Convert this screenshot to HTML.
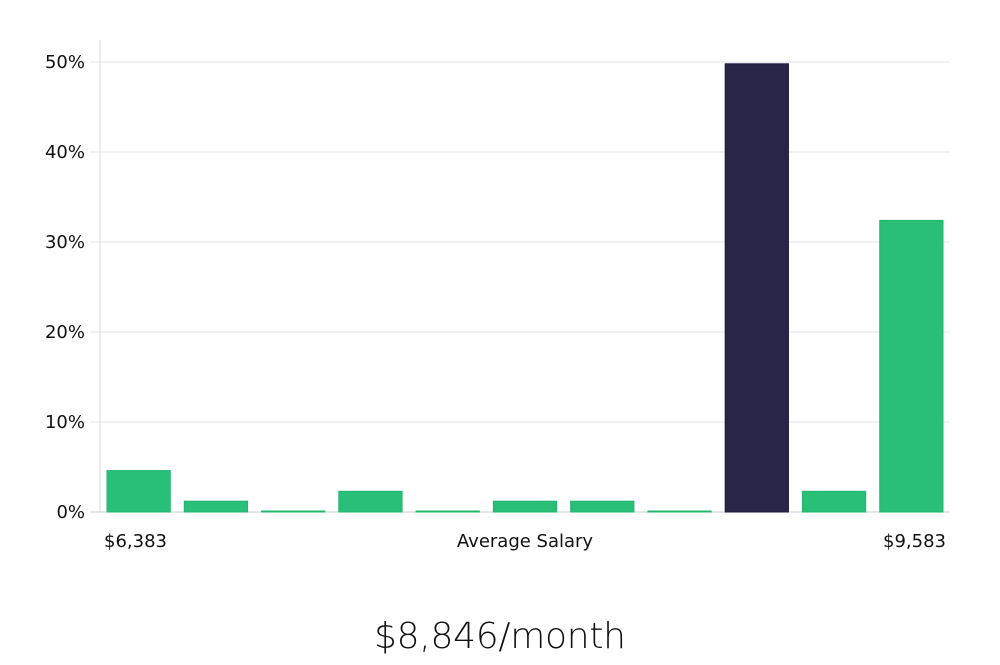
<!DOCTYPE html>
<html><head><meta charset="utf-8"><style>
body{margin:0;background:#fff;width:1000px;height:660px;overflow:hidden}
svg text{font-family:"DejaVu Sans","Liberation Sans",sans-serif}
</style></head><body>
<svg id="chart" width="1000" height="660" xmlns="http://www.w3.org/2000/svg">
<g id="grid"></g>
<g id="bars"></g>
<g id="yt"></g>
<line x1="100" y1="40" x2="100" y2="512" stroke="#ddd" stroke-width="1"/>
<text x="104" y="547" font-size="18" fill="#111">$6,383</text>
<text x="525" y="547" font-size="18" fill="#111" text-anchor="middle">Average Salary</text>
<text x="946" y="547" font-size="18" fill="#111" text-anchor="end">$9,583</text>
<text x="500" y="648" font-size="36" fill="#111" text-anchor="middle" style="font-family:'DejaVu Sans','Liberation Sans',sans-serif;font-weight:300" textLength="252">$8,846/month</text>
</svg>
<script>
const values=[4.6,1.2,0.1,2.3,0.1,1.2,1.2,0.1,49.8,2.3,32.4];
const highlight=[false,false,false,false,false,false,false,false,true,false,false];
const yTicks=[0,10,20,30,40,50];
const yTickLabels=["0%","10%","20%","30%","40%","50%"];
const NS="http://www.w3.org/2000/svg";
const L=100,R=950,Y0=512,PX=9;
const y=v=>Y0-v*PX;
const slot=(R-L)/values.length;
const g=document.getElementById('grid'),yt=document.getElementById('yt'),b=document.getElementById('bars');
yTicks.forEach((t,i)=>{
  const ln=document.createElementNS(NS,'line');
  
  
  ln.setAttribute('x1',i===0?90:90);ln.setAttribute('x2',R);
  ln.setAttribute('y1',y(t));ln.setAttribute('y2',y(t));
  ln.setAttribute('stroke',i===0?'#ccc':'#e3e3e3');ln.setAttribute('stroke-width','1');
  g.appendChild(ln);
  const tx=document.createElementNS(NS,'text');
  
  
  tx.setAttribute('x',85);tx.setAttribute('y',y(t)+6);
  tx.setAttribute('text-anchor','end');tx.setAttribute('font-size','18');tx.setAttribute('fill','#111');
  tx.textContent=yTickLabels[i];
  yt.appendChild(tx);
});
values.forEach((v,i)=>{
  const r=document.createElementNS(NS,'rect');
  
  
  const h=Math.max(v*PX,1);
  r.setAttribute('x',L+i*slot+7);r.setAttribute('width',slot-14);
  r.setAttribute('y',Y0-h);r.setAttribute('height',h);
  r.setAttribute('fill',highlight[i]?'#282546':'#2abf78');
  r.setAttribute('stroke',highlight[i]?'#1f1b40':'#22b56e');r.setAttribute('stroke-width','1');
  b.appendChild(r);
});
</script>
</body></html>
